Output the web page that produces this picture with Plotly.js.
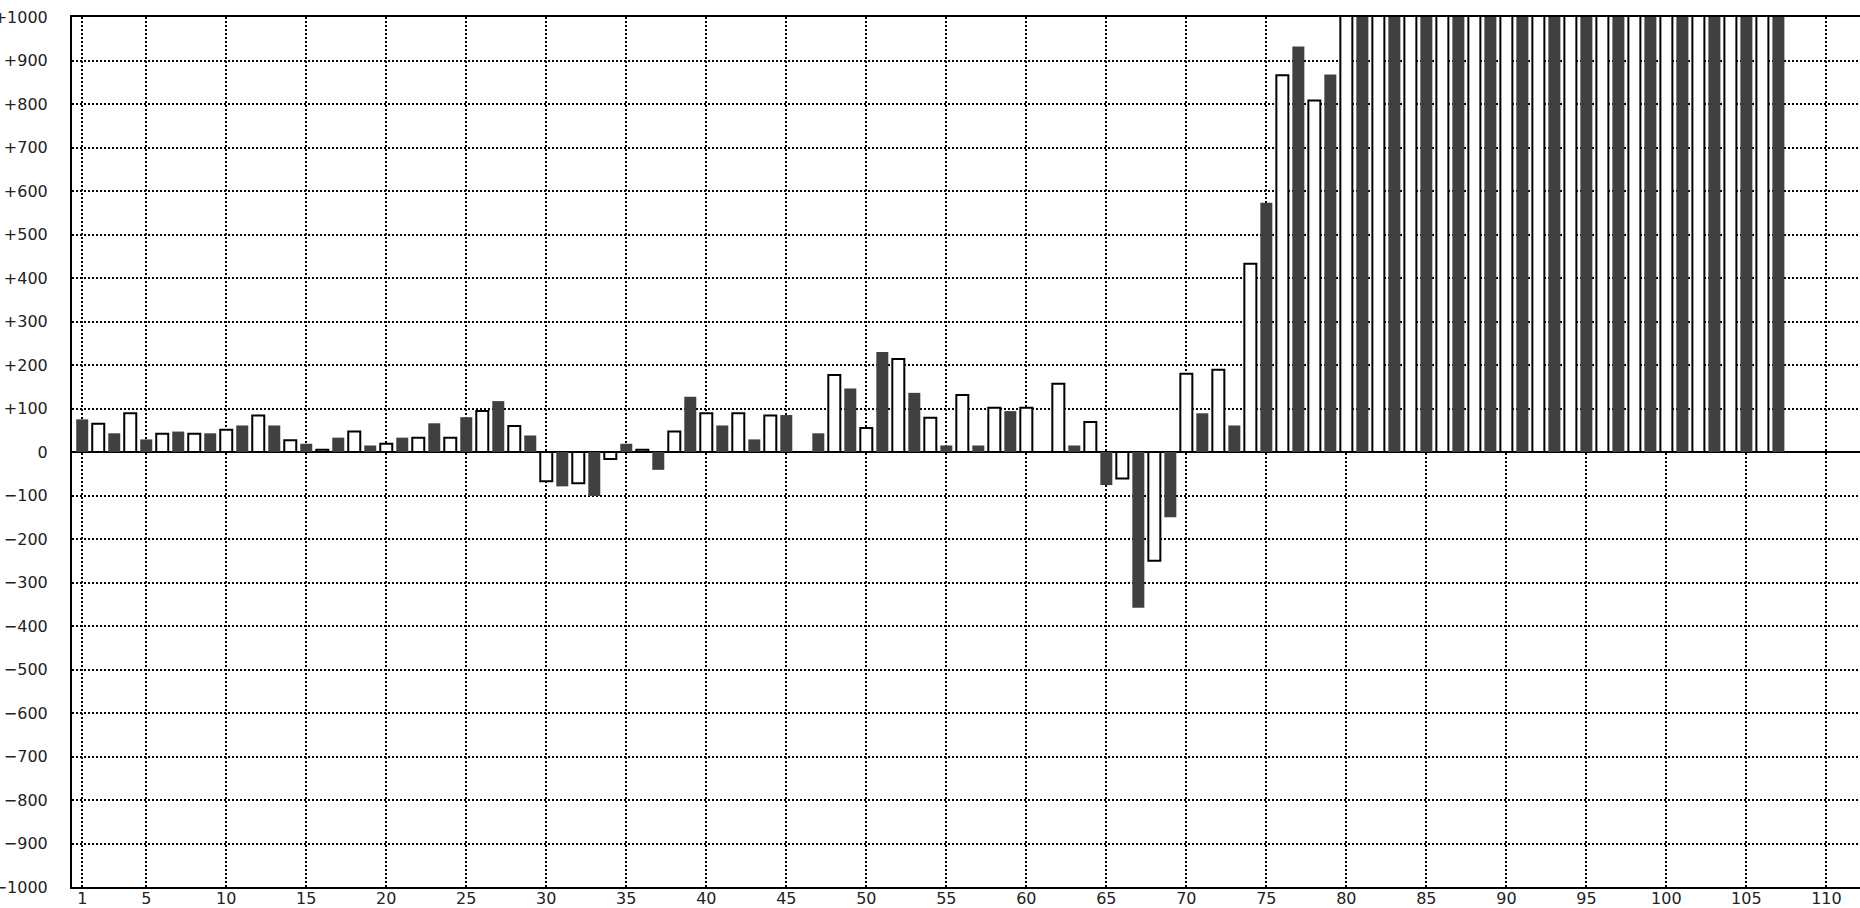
<!DOCTYPE html>
<html>
<head>
<meta charset="utf-8">
<script src="https://cdn.plot.ly/plotly-3.0.1.min.js"></script>
<style>
  html, body { margin: 0; padding: 0; background: #fff; }
  #chart { width: 1860px; height: 908px; }
</style>
</head>
<body>
<div id="chart"></div>
<script>
// Category positions (1..107)
const positions = [];
for (let i = 1; i <= 107; i++) positions.push(i);

// Values (bars 80..107 run past the top of the plot)
const values = [
  75, 65, 43, 89, 29, 42, 47, 42, 43, 51,
  61, 84, 61, 27, 19, 5, 33, 47, 15, 19,
  33, 33, 66, 33, 80, 94, 117, 60, 38, -67,
  -79, -72, -101, -16, 19, 5, -41, 47, 127, 89,
  61, 89, 29, 84, 85, 0, 43, 177, 146, 55,
  230, 214, 136, 79, 15, 131, 15, 102, 94, 102,
  0, 157, 15, 69, -76, -61, -358, -250, -150, 180,
  89, 189, 61, 433, 573, 866, 932, 808, 868, 1200,
  1200, 1200, 1200, 1200, 1200, 1200, 1200, 1200, 1200, 1200,
  1200, 1200, 1200, 1200, 1200, 1200, 1200, 1200, 1200, 1200,
  1200, 1200, 1200, 1200, 1200, 1200, 1200
];

// Tick labels
const xTickVals = [1, 5, 10, 15, 20, 25, 30, 35, 40, 45, 50, 55, 60, 65, 70, 75, 80, 85, 90, 95, 100, 105, 110];
const xTickText = ["1", "5", "10", "15", "20", "25", "30", "35", "40", "45", "50", "55", "60", "65", "70", "75", "80", "85", "90", "95", "100", "105", "110"];
const yTickVals = [1000, 900, 800, 700, 600, 500, 400, 300, 200, 100, 0, -100, -200, -300, -400, -500, -600, -700, -800, -900, -1000];
const yTickText = ["+1000", "+900", "+800", "+700", "+600", "+500", "+400", "+300", "+200", "+100", "0",
  "\u2212100", "\u2212200", "\u2212300", "\u2212400", "\u2212500", "\u2212600", "\u2212700", "\u2212800", "\u2212900", "\u22121000"];

// Styling: odd bars filled dark, even bars white with black outline
const fillColors = positions.map(p => (p % 2 === 1 ? '#404040' : '#ffffff'));
const lineWidths = positions.map(p => (p % 2 === 1 ? 0 : 2));

const trace = {
  type: 'bar',
  x: positions,
  y: values,
  width: 0.75,
  marker: {
    color: fillColors,
    line: { color: '#000000', width: lineWidths }
  },
  hoverinfo: 'x+y'
};

const gridStyle = { gridcolor: '#000000', gridwidth: 2, griddash: '2px,2px' };

const layout = {
  width: 1860,
  height: 908,
  margin: { l: 72, r: 0, t: 17, b: 21, pad: 0 },
  paper_bgcolor: '#ffffff',
  plot_bgcolor: '#ffffff',
  showlegend: false,
  font: { family: 'DejaVu Sans, sans-serif', size: 16, color: '#222222' },
  xaxis: Object.assign({
    range: [0.36, 112.1],
    tickmode: 'array',
    tickvals: xTickVals,
    ticktext: xTickText,
    showgrid: true,
    zeroline: false,
    showline: true,
    linecolor: '#000000',
    linewidth: 2,
    mirror: true,
    ticks: '',
    ticklabelstandoff: -4,
    tickfont: { family: 'DejaVu Sans, sans-serif', size: 16, color: '#222222' }
  }, gridStyle),
  yaxis: Object.assign({
    range: [-1000, 1000],
    tickmode: 'array',
    tickvals: yTickVals,
    ticktext: yTickText,
    showgrid: true,
    zeroline: true,
    zerolinecolor: '#000000',
    zerolinewidth: 2,
    showline: true,
    linecolor: '#000000',
    linewidth: 2,
    mirror: false,
    ticks: '',
    ticklabelstandoff: 19,
    tickfont: { family: 'DejaVu Sans, sans-serif', size: 16, color: '#222222' }
  }, gridStyle)
};

Plotly.newPlot('chart', [trace], layout, { displayModeBar: false, staticPlot: true });
</script>
</body>
</html>
